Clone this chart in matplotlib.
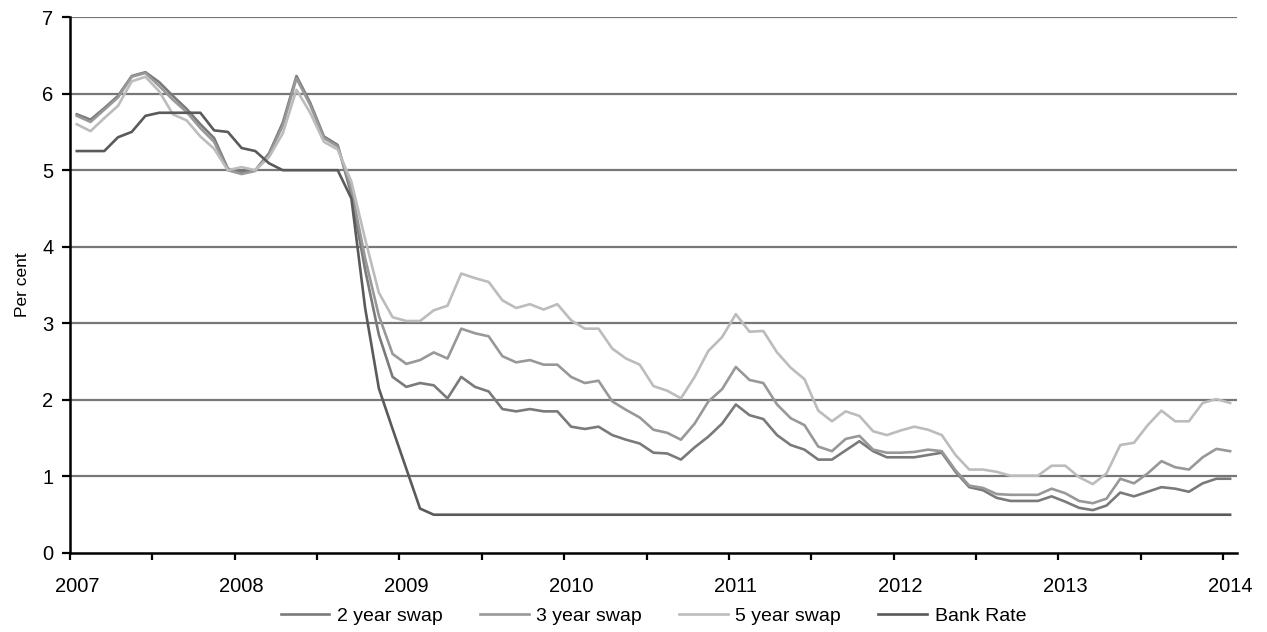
import numpy as np
import matplotlib
matplotlib.use("Agg")
import matplotlib.pyplot as plt

plt.rcParams['font.family'] = ['Liberation Sans', 'DejaVu Sans']

# monthly observations, first category at the start of 2007
bank_rate = [5.25, 5.25, 5.25, 5.43, 5.50, 5.71, 5.75, 5.75, 5.75, 5.75,
             5.52, 5.50, 5.29, 5.25, 5.09, 5.00, 5.00, 5.00, 5.00, 5.00,
             4.63, 3.20, 2.15, 1.62, 1.10, 0.58] + [0.50] * 59

swap_2y = [5.73, 5.66, 5.81, 5.97, 6.23, 6.28, 6.15, 5.97, 5.80, 5.60,
           5.42, 5.02, 4.97, 5.00, 5.22, 5.62, 6.23, 5.88, 5.44, 5.33,
           4.68, 3.70, 2.85, 2.30, 2.17, 2.22, 2.19, 2.02, 2.30, 2.17,
           2.11, 1.88, 1.85, 1.88, 1.85, 1.85, 1.65, 1.62, 1.65, 1.54,
           1.48, 1.43, 1.31, 1.30, 1.22, 1.38, 1.52, 1.69, 1.94, 1.80,
           1.75, 1.54, 1.41, 1.35, 1.22, 1.22, 1.34, 1.46, 1.33, 1.25,
           1.25, 1.25, 1.28, 1.31, 1.06, 0.86, 0.82, 0.72, 0.68, 0.68,
           0.68, 0.74, 0.67, 0.59, 0.56, 0.62, 0.79, 0.74, 0.80, 0.86,
           0.84, 0.80, 0.91, 0.97, 0.97]

swap_3y = [5.71, 5.63, 5.79, 5.95, 6.22, 6.27, 6.10, 5.92, 5.76, 5.55,
           5.37, 5.00, 4.95, 4.99, 5.20, 5.58, 6.20, 5.85, 5.42, 5.31,
           4.75, 3.85, 3.10, 2.60, 2.47, 2.52, 2.62, 2.54, 2.93, 2.87,
           2.83, 2.57, 2.49, 2.52, 2.46, 2.46, 2.30, 2.22, 2.25, 1.98,
           1.87, 1.77, 1.61, 1.57, 1.48, 1.69, 1.98, 2.14, 2.43, 2.26,
           2.22, 1.94, 1.76, 1.67, 1.39, 1.33, 1.49, 1.53, 1.35, 1.31,
           1.31, 1.32, 1.35, 1.33, 1.08, 0.88, 0.85, 0.77, 0.76, 0.76,
           0.76, 0.84, 0.78, 0.68, 0.65, 0.71, 0.97, 0.91, 1.04, 1.20,
           1.12, 1.09, 1.25, 1.36, 1.33]

swap_5y = [5.60, 5.51, 5.68, 5.84, 6.16, 6.22, 6.03, 5.73, 5.65, 5.44,
           5.28, 5.00, 5.04, 5.00, 5.17, 5.48, 6.05, 5.75, 5.37, 5.27,
           4.85, 4.10, 3.40, 3.08, 3.03, 3.03, 3.17, 3.23, 3.65, 3.59,
           3.54, 3.30, 3.20, 3.25, 3.18, 3.25, 3.04, 2.93, 2.93, 2.67,
           2.54, 2.46, 2.18, 2.12, 2.02, 2.30, 2.64, 2.82, 3.12, 2.89,
           2.90, 2.62, 2.42, 2.27, 1.86, 1.72, 1.85, 1.79, 1.59, 1.54,
           1.60, 1.65, 1.61, 1.54, 1.28, 1.09, 1.09, 1.06, 1.01, 1.01,
           1.01, 1.14, 1.14, 0.99, 0.90, 1.04, 1.41, 1.44, 1.67, 1.86,
           1.72, 1.72, 1.96, 2.01, 1.96]

years = ['2007', '2008', '2009', '2010', '2011', '2012', '2013', '2014']

n = len(bank_rate)
x = np.arange(n) + 0.5

fig = plt.figure(figsize=(12.67, 6.32), dpi=100)
ax = fig.add_axes([0.0552, 0.125, 0.9211, 0.848])

for yv in range(1, 8):
    ax.axhline(yv, color='#777777', lw=1.6, zorder=1)

ax.plot(x, swap_2y, color='#7a7a7a', lw=1.9, label='2 year swap', zorder=3)
ax.plot(x, swap_3y, color='#989898', lw=1.9, label='3 year swap', zorder=3)
ax.plot(x, swap_5y, color='#bcbcbc', lw=1.9, label='5 year swap', zorder=3)
ax.plot(x, bank_rate, color='#5a5a5a', lw=1.9, label='Bank Rate', zorder=4)

ax.set_xlim(0, n)
ax.set_ylim(0, 7)

# tick marks every six months, year labels centred on the January category
ax.set_xticks(np.arange(0, n, 6))
ax.set_xticklabels([])
ax.set_xticks(np.arange(len(years)) * 12 + 0.5, minor=True)
ax.set_xticklabels(years, minor=True)
ax.tick_params(axis='x', which='major', direction='out', length=5, width=1.6)
ax.tick_params(axis='x', which='minor', length=0, pad=17, labelsize=14.5)

ax.set_yticks(range(0, 8))
ax.tick_params(axis='y', direction='out', length=6, width=1.6, labelsize=14.5, pad=6)
ax.set_ylabel('Per cent', fontsize=12.5, labelpad=9)

for s in ['top', 'right']:
    ax.spines[s].set_visible(False)
for s in ['left', 'bottom']:
    ax.spines[s].set_linewidth(1.8)
    ax.spines[s].set_zorder(5)

ax.legend(loc='upper center', bbox_to_anchor=(0.5, -0.068), ncol=4,
          frameon=False, fontsize=14, handlelength=2.5, handletextpad=0.4,
          columnspacing=1.9)

plt.savefig('out.png', dpi=100)
